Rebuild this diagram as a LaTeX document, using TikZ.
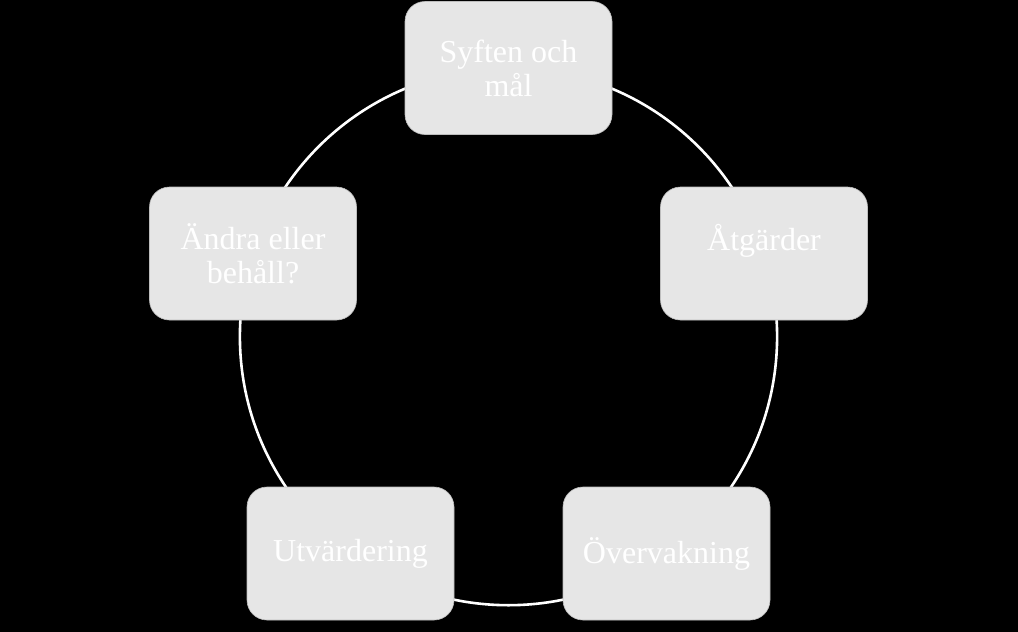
\documentclass[tikz,border=0pt]{standalone}
\usepackage{fontspec}
\setmainfont{Liberation Serif}
\begin{document}
\begin{tikzpicture}[x=1pt,y=-1pt,
  stage/.style={rectangle, rounded corners=20pt, fill=boxgray, draw=boxedge, line width=0.6pt,
    minimum width=207pt, minimum height=133pt, align=center, text=white,
    font=\fontsize{32pt}{34pt}\selectfont, inner sep=0pt},
  ring/.style={draw=white, line width=2.6pt}]
\definecolor{boxgray}{HTML}{E6E6E6}
\definecolor{boxedge}{HTML}{BDBDBD}
\fill[black] (0,0) rectangle (1018,632);
\useasboundingbox (0,0) rectangle (1018,632);
\coordinate (c) at (508.5,336.6);
\draw[ring] (c) circle[radius=268.6pt];
\node[stage] (s1) at (508.5,68) {Syften och\\mål};
\node[stage] (s2) at (764,253.5) {\raisebox{13pt}[\height][\depth]{Åtgärder}};
\node[stage] (s3) at (666.5,553.5) {Övervakning};
\node[stage] (s4) at (350.5,553.5) {Utvärdering};
\node[stage] (s5) at (253,253.5) {Ändra eller\\behåll?};
\end{tikzpicture}
\end{document}
